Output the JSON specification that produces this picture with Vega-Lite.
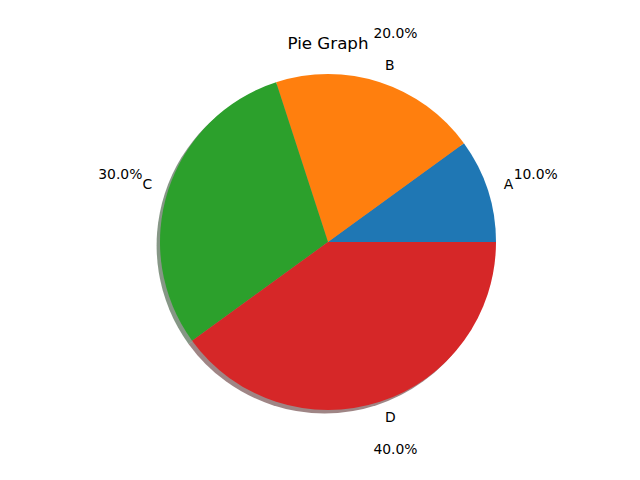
{
  "$schema": "https://vega.github.io/schema/vega-lite/v6.json",
  "width": 624,
  "height": 476,
  "autosize": {"type": "none"},
  "padding": {"left": 16, "top": 4, "right": 0, "bottom": 0},
  "background": "white",
  "config": {"view": {"stroke": null}, "font": "DejaVu Sans"},
  "title": {"text": "Pie Graph", "fontSize": 16.7, "fontWeight": "normal", "font": "DejaVu Sans", "color": "black", "offset": -49, "anchor": "middle"},
  "data": {"values": [
    {"category": "A", "value": 10, "pct": "10.0%"},
    {"category": "B", "value": 20, "pct": "20.0%"},
    {"category": "C", "value": 30, "pct": "30.0%"},
    {"category": "D", "value": 40, "pct": "40.0%"}
  ]},
  "encoding": {
    "theta": {"field": "value", "type": "quantitative", "stack": true, "scale": {"range": [1.5707963, -4.712389]}},
    "order": {"field": "category", "sort": "ascending"}
  },
  "layer": [
    {
      "mark": {"type": "arc", "outerRadius": 168, "xOffset": -3.4, "yOffset": 3.4, "opacity": 0.5},
      "encoding": {
        "color": {"field": "category", "type": "nominal", "legend": null, "scale": {"domain": ["A", "B", "C", "D"], "range": ["#09243f", "#4d2604", "#0d300d", "#400c0c"]}}
      }
    },
    {
      "mark": {"type": "arc", "outerRadius": 168},
      "encoding": {
        "color": {"field": "category", "type": "nominal", "legend": null, "scale": {"domain": ["A", "B", "C", "D"], "range": ["#1f77b4", "#ff7f0e", "#2ca02c", "#d62728"]}}
      }
    },
    {
      "mark": {"type": "text", "radius": 184.8, "fontSize": 13.9, "color": "black", "baseline": "middle", "align": {"expr": "datum.category === 'C' ? 'right' : 'left'"}},
      "encoding": {"text": {"field": "category", "type": "nominal"}}
    },
    {
      "mark": {"type": "text", "radius": 218.4, "fontSize": 13.9, "color": "black", "baseline": "middle", "align": "center"},
      "encoding": {"text": {"field": "pct", "type": "nominal"}}
    }
  ],
  "resolve": {"scale": {"color": "independent"}}
}
